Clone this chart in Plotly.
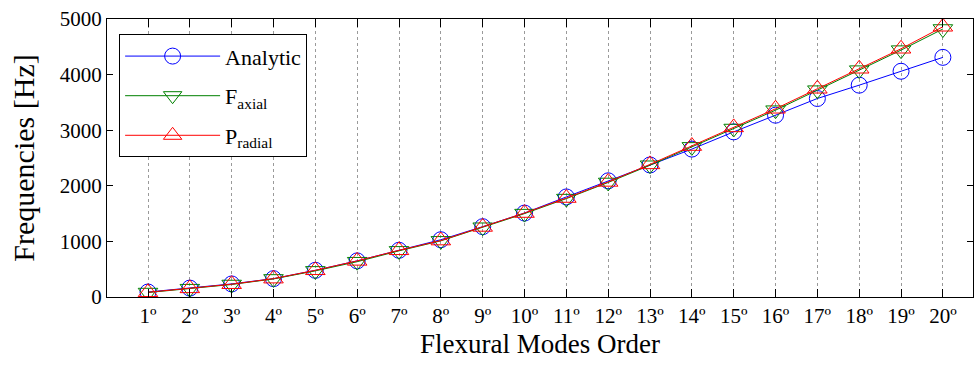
import plotly.graph_objects as go

# Flexural mode order (1..20) and natural frequencies in Hz
modes = list(range(1, 21))
mode_labels = [f"{m}º" for m in modes]

analytic = [90, 160, 235, 330, 480, 650, 840, 1030, 1265, 1510,
            1800, 2090, 2375, 2660, 2970, 3270, 3570, 3810, 4060, 4310]
f_axial = [80, 150, 225, 325, 470, 635, 830, 1010, 1255, 1500,
           1770, 2060, 2370, 2700, 3030, 3360, 3720, 4080, 4440, 4820]
p_radial = [85, 155, 230, 330, 480, 650, 840, 1015, 1260, 1510,
            1780, 2070, 2385, 2715, 3050, 3385, 3745, 4105, 4465, 4860]

y_ticks = [0, 1000, 2000, 3000, 4000, 5000]

FONT = "Liberation Serif"

fig = go.Figure()

series = [
    ("Analytic", analytic, "#0000ff", "circle-open", 16),
    ("F<sub>axial</sub>", f_axial, "#008000", "triangle-down-open", 17),
    ("P<sub>radial</sub>", p_radial, "#ff0000", "triangle-up-open", 17),
]
for i, (name, vals, color, symbol, size) in enumerate(series):
    fig.add_trace(go.Scatter(
        x=modes, y=vals, name=name, mode="lines+markers",
        legendgroup=f"g{i}",
        line=dict(color=color, width=1),
        marker=dict(symbol=symbol, size=size, color=color,
                    line=dict(color=color, width=1)),
    ))

fig.update_layout(
    width=980, height=365,
    margin=dict(l=107, r=7, t=19, b=68),
    paper_bgcolor="white", plot_bgcolor="white",
    font=dict(family=FONT, size=21, color="black"),
    legend=dict(
        x=0.014, y=0.945, xanchor="left", yanchor="top",
        bgcolor="white", bordercolor="black", borderwidth=1,
        font=dict(family=FONT, size=22),
        itemwidth=95, tracegroupgap=8,
    ),
    xaxis=dict(
        range=[0.02, 20.72],
        tickvals=modes, ticktext=mode_labels,
        showgrid=True, gridcolor="#9a9a9a", griddash="dot", gridwidth=1,
        showline=True, linecolor="black", linewidth=1, mirror="ticks",
        ticks="inside", ticklen=8, tickcolor="black",
        zeroline=False,
        title=dict(text="Flexural Modes Order", font=dict(family=FONT, size=27),
                   standoff=6),
    ),
    yaxis=dict(
        range=[0, 5000],
        tickvals=y_ticks,
        showgrid=False,
        showline=True, linecolor="black", linewidth=1, mirror="ticks",
        ticks="inside", ticklen=6, tickcolor="black",
        zeroline=False,
        title=dict(text="Frequencies [Hz]", font=dict(family=FONT, size=30),
                   standoff=16),
    ),
)

fig.write_html("out.html")
